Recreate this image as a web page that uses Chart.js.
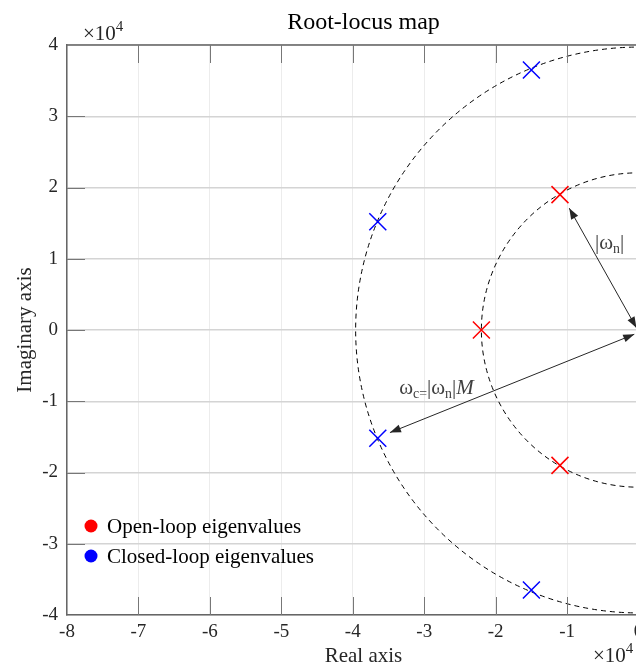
<!DOCTYPE html>
<html>
<head>
<meta charset="utf-8">
<script src="https://cdn.jsdelivr.net/npm/chart.js@4.4.1/dist/chart.umd.min.js"></script>
<style>
    html, body { margin: 0; padding: 0; background: #fff; overflow: hidden; }
    #wrap { width: 636px; height: 668px; overflow: hidden; position: relative; }
</style>
</head>
<body>
<div id="wrap"><canvas id="rl" width="660" height="668"></canvas></div>
<script>
// values in units of 1e4
let openLoopX = [-1.1, -2.2, -1.1]
let openLoopY = [1.9, 0, -1.9]
let closedLoopX = [-1.5, -3.65, -3.65, -1.5]
let closedLoopY = [3.65, 1.52, -1.52, -3.65]

let locusRadii = [2.2, 3.96]

let xTicks = [-8, -7, -6, -5, -4, -3, -2, -1, 0]
let yTicks = [-4, -3, -2, -1, 0, 1, 2, 3, 4]

// double headed arrows, [x, y] pairs
let arrowFrom = [[-0.03, 0.03], [-0.06, -0.06]]
let arrowTo = [[-0.97, 1.71], [-3.48, -1.44]]

let serif = '"Liberation Serif", "Times New Roman", serif'

function toPoints(xs, ys) {
    return xs.map((x, i) => ({ x: x, y: ys[i] }))
}

// draw text pieces, some with subscript / italic
function drawRich(ctx, parts, x, y, size) {
    let cx = x
    parts.forEach(p => {
        let s = p.sub ? size * 0.66 : size
        ctx.font = (p.italic ? 'italic ' : '') + s + 'px ' + serif
        ctx.fillText(p.t, cx, p.sub ? y + size * 0.2 : y)
        cx += ctx.measureText(p.t).width
    })
}

function arrowHead(ctx, x1, y1, x2, y2) {
    // tip at x2,y2
    let a = Math.atan2(y2 - y1, x2 - x1)
    let len = 11, hw = 4
    ctx.beginPath()
    ctx.moveTo(x2, y2)
    ctx.lineTo(x2 - len * Math.cos(a) + hw * Math.sin(a), y2 - len * Math.sin(a) - hw * Math.cos(a))
    ctx.lineTo(x2 - len * Math.cos(a) - hw * Math.sin(a), y2 - len * Math.sin(a) + hw * Math.cos(a))
    ctx.closePath()
    ctx.fill()
}

let decor = {
    id: 'decor',
    beforeDatasetsDraw(chart) {
        let ctx = chart.ctx
        let xs = chart.scales.x, ys = chart.scales.y
        let area = chart.chartArea
        ctx.save()
        ctx.beginPath()
        ctx.rect(area.left, area.top, area.right - area.left, area.bottom - area.top)
        ctx.clip()

        // locus circles around origin
        let cx = xs.getPixelForValue(0), cy = ys.getPixelForValue(0)
        ctx.strokeStyle = '#000'
        ctx.lineWidth = 1
        ctx.setLineDash([5, 4])
        locusRadii.forEach(r => {
            let rp = xs.getPixelForValue(r) - cx
            ctx.beginPath()
            ctx.arc(cx, cy, rp, 0, Math.PI * 2)
            ctx.stroke()
        })
        ctx.setLineDash([])

        // arrows
        ctx.strokeStyle = '#262626'
        ctx.fillStyle = '#262626'
        ctx.lineWidth = 1
        arrowFrom.forEach((f, i) => {
            let x1 = xs.getPixelForValue(f[0]), y1 = ys.getPixelForValue(f[1])
            let x2 = xs.getPixelForValue(arrowTo[i][0]), y2 = ys.getPixelForValue(arrowTo[i][1])
            ctx.beginPath()
            ctx.moveTo(x1, y1)
            ctx.lineTo(x2, y2)
            ctx.stroke()
            arrowHead(ctx, x1, y1, x2, y2)
            arrowHead(ctx, x2, y2, x1, y1)
        })

        // labels of the arrows
        ctx.fillStyle = '#404040'
        ctx.textAlign = 'left'
        ctx.textBaseline = 'alphabetic'
        drawRich(ctx, [{ t: '|ω' }, { t: 'n', sub: true }, { t: '|' }],
            xs.getPixelForValue(-0.61), ys.getPixelForValue(1.14), 21)
        drawRich(ctx, [{ t: 'ω' }, { t: 'c=', sub: true }, { t: '|ω' }, { t: 'n', sub: true }, { t: '|' }, { t: 'M', italic: true }],
            xs.getPixelForValue(-3.35), ys.getPixelForValue(-0.9), 21)
        ctx.restore()
    },
    afterDraw(chart) {
        let ctx = chart.ctx
        let xs = chart.scales.x, ys = chart.scales.y
        let area = chart.chartArea
        ctx.save()

        // top box line + inward ticks
        ctx.strokeStyle = '#666'
        ctx.lineWidth = 1.5
        ctx.beginPath()
        ctx.moveTo(area.left, area.top)
        ctx.lineTo(area.right, area.top)
        ctx.stroke()
        ctx.lineWidth = 1
        ctx.strokeStyle = '#777'
        xTicks.forEach(v => {
            let px = Math.round(xs.getPixelForValue(v)) + 0.5
            if (v === -8) return
            ctx.beginPath()
            ctx.moveTo(px, area.top)
            ctx.lineTo(px, area.top + 18)
            ctx.moveTo(px, area.bottom)
            ctx.lineTo(px, area.bottom - 18)
            ctx.stroke()
        })
        yTicks.forEach(v => {
            if (v === 4 || v === -4) return
            let py = Math.round(ys.getPixelForValue(v)) + 0.5
            ctx.beginPath()
            ctx.moveTo(area.left, py)
            ctx.lineTo(area.left + 18, py)
            ctx.stroke()
        })

        // title and axis labels
        let mid = (area.left + area.right) / 2
        ctx.fillStyle = '#000'
        ctx.textAlign = 'center'
        ctx.textBaseline = 'alphabetic'
        ctx.font = '24px ' + serif
        ctx.fillText('Root-locus map', mid, 29)
        ctx.fillStyle = '#262626'
        ctx.font = '21px ' + serif
        ctx.fillText('Real axis', mid, 662)
        ctx.save()
        ctx.translate(31, (area.top + area.bottom) / 2)
        ctx.rotate(-Math.PI / 2)
        ctx.fillText('Imaginary axis', 0, 0)
        ctx.restore()

        // exponent labels
        ctx.textAlign = 'left'
        ctx.font = '21px ' + serif
        ctx.fillText('×10', 83, 40)
        let w = ctx.measureText('×10').width
        ctx.font = '15px ' + serif
        ctx.fillText('4', 83 + w, 31)
        ctx.font = '21px ' + serif
        ctx.fillText('×10', 593, 662)
        ctx.font = '15px ' + serif
        ctx.fillText('4', 593 + w, 653)

        // legend inside, bottom left
        chart.data.datasets.forEach((ds, i) => {
            let ly = area.bottom - 89 + i * 30
            ctx.fillStyle = ds.borderColor
            ctx.beginPath()
            ctx.arc(area.left + 24, ly, 6.5, 0, Math.PI * 2)
            ctx.fill()
            ctx.fillStyle = '#000'
            ctx.font = '21px ' + serif
            ctx.textBaseline = 'middle'
            ctx.fillText(ds.label, area.left + 40, ly + 1)
        })
        ctx.restore()
    }
}

new Chart(document.getElementById('rl'), {
    type: 'scatter',
    data: {
        datasets: [
            {
                label: 'Open-loop eigenvalues',
                data: toPoints(openLoopX, openLoopY),
                borderColor: '#ff0000',
                backgroundColor: '#ff0000',
                pointStyle: 'crossRot',
                pointRadius: 12,
                pointBorderWidth: 1.5
            },
            {
                label: 'Closed-loop eigenvalues',
                data: toPoints(closedLoopX, closedLoopY),
                borderColor: '#0000ff',
                backgroundColor: '#0000ff',
                pointStyle: 'crossRot',
                pointRadius: 12,
                pointBorderWidth: 1.5
            }
        ]
    },
    options: {
        responsive: false,
        animation: false,
        layout: { autoPadding: false, padding: { top: 45, left: 0, right: 0, bottom: 0 } },
        plugins: {
            legend: { display: false },
            tooltip: { enabled: false }
        },
        scales: {
            x: {
                type: 'linear',
                min: -8,
                max: 0.3,
                afterBuildTicks: s => { s.ticks = xTicks.map(v => ({ value: v })) },
                afterFit: s => {
                    s.height = 53
                    s.paddingLeft = 0
                    s.paddingRight = 0
                },
                grid: { color: '#ececec', lineWidth: 1, drawTicks: false },
                border: { display: true, color: '#666', width: 1.5 },
                ticks: {
                    padding: 6,
                    color: '#262626',
                    font: { family: serif, size: 19 },
                    maxRotation: 0,
                    callback: v => String(v)
                }
            },
            y: {
                type: 'linear',
                min: -4,
                max: 4,
                afterBuildTicks: s => { s.ticks = yTicks.map(v => ({ value: v })) },
                afterFit: s => {
                    s.width = 67
                    s.paddingTop = 0
                    s.paddingBottom = 0
                },
                grid: { color: '#d4d4d4', lineWidth: 1.5, drawTicks: false },
                border: { display: true, color: '#666', width: 1.5 },
                ticks: {
                    padding: 9,
                    color: '#262626',
                    font: { family: serif, size: 19 },
                    callback: v => String(v)
                }
            }
        }
    },
    plugins: [decor]
})
</script>
</body>
</html>
